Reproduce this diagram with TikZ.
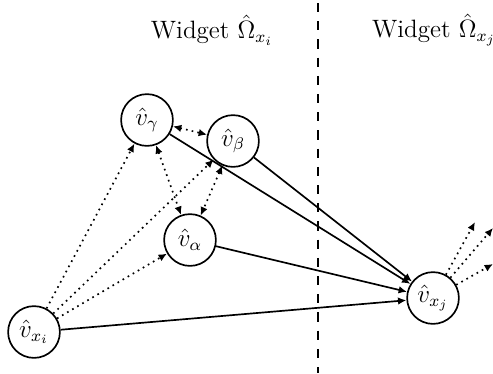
\documentclass[tikz,border=0pt]{standalone}
\usetikzlibrary{positioning,arrows.meta}

\begin{document}
\begin{tikzpicture}[
    x=0.0168cm, y=-0.0168cm,
    every node/.style={font=\large},
    vertex/.style={circle, draw, thick, minimum size=0.87cm, inner sep=0pt},
    arrow/.style={-{Latex[length=4pt,width=3.6pt]}, thick},
    dotarrow/.style={-{Latex[length=4pt,width=3.6pt]}, thick, dotted},
    dotboth/.style={{Latex[length=4pt,width=3.6pt]}-{Latex[length=4pt,width=3.6pt]}, thick, dotted},
    divider/.style={line width=1pt, dash pattern=on 4.4pt off 4.3pt}
]
\useasboundingbox (0,0) rectangle (493,373);

% Widget labels and divider
\node (wi) at (212,30) {Widget $\hat{\Omega}_{x_i}$};
\node (wj) at (434,30) {Widget $\hat{\Omega}_{x_j}$};
\coordinate (top) at (318,3);
\coordinate (bottom) at (318,373);
\draw[divider] (top) -- (bottom);

% Vertices
\node[vertex] (gamma) at (147,120) {$\hat{v}_\gamma$};
\node[vertex] (beta) at (233,141) {$\hat{v}_\beta$};
\node[vertex] (alpha) at (190,240) {$\hat{v}_\alpha$};
\node[vertex] (xi) at (34,332) {$\hat{v}_{x_i}$};
\node[vertex] (xj) at (433,298) {$\hat{v}_{x_j}$};

% Free ends leaving x_j
\coordinate (out1) at (475,222);
\coordinate (out2) at (493,228);
\coordinate (out3) at (493,264);

% Arrows - dotted from x_i
\draw[dotarrow] (xi) -- (gamma);
\draw[dotarrow] (xi) -- (beta);
\draw[dotarrow] (xi) -- (alpha);

% Arrows - dotted inside the widget
\draw[dotboth] (gamma) -- (beta);
\draw[dotboth] (gamma) -- (alpha);
\draw[dotboth] (beta) -- (alpha);

% Arrows - solid into x_j
\draw[arrow] (gamma) -- (xj);
\draw[arrow] (beta) -- (xj);
\draw[arrow] (alpha) -- (xj);
\draw[arrow] (xi) -- (xj);

% Arrows - dotted out of x_j
\draw[dotarrow] (xj) -- (out1);
\draw[dotarrow] (xj) -- (out2);
\draw[dotarrow] (xj) -- (out3);

\end{tikzpicture}
\end{document}
